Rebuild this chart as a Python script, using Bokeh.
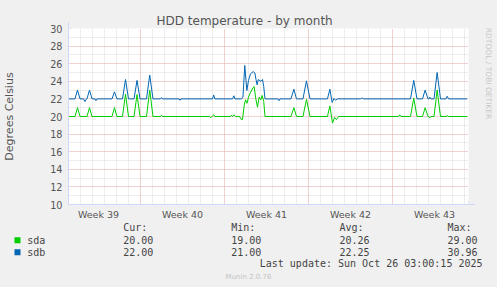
import math
from bokeh.plotting import figure
from bokeh.layouts import column, row
from bokeh.models import Range1d, FixedTicker, Grid, Arrow, NormalHead
from bokeh.core.properties import value
from bokeh.embed import file_html
from bokeh.resources import INLINE

# ---- data (x in days since Mon 22 Sep 2025 00:00) ----
sdb_t = [1.0, 1.54, 1.75, 1.96, 2.25, 2.375, 2.5, 2.54, 2.75, 2.96, 3.21, 3.29, 3.375,
         4.625, 4.83, 5.04, 5.5, 5.75, 6.0, 6.46, 6.71, 6.96, 7.5, 7.77, 8.04,
         8.67, 8.75, 8.83, 10.21, 10.29, 10.375, 13.0, 13.1, 13.2, 14.67, 14.78, 14.875,
         15.42, 15.54, 15.69, 15.86, 16.0, 16.17, 16.39, 16.53, 16.625, 16.72, 16.81,
         17.03, 17.17, 17.27, 17.375, 18.46, 18.54, 18.625, 19.54, 19.78, 20.0,
         20.54, 20.83, 21.125, 22.58, 22.78, 22.97, 23.125, 23.25, 23.42,
         25.33, 25.475, 25.58, 29.5, 29.77, 30.04, 30.5, 30.72, 30.96, 31.04, 31.11, 31.2,
         31.46, 31.72, 32.0, 32.46, 32.56, 32.67, 34.225]
sdb_v = [22.0, 22.0, 23.0, 22.0, 22.0, 21.7, 22.0, 22.0, 23.0, 22.0, 22.0, 21.8, 22.0,
         22.0, 22.8, 22.0, 22.0, 24.2, 22.0, 22.0, 24.1, 22.0, 22.0, 24.7, 22.0,
         22.0, 22.15, 22.0, 22.0, 21.85, 22.0, 22.0, 22.45, 22.0, 22.0, 22.35, 22.0,
         22.0, 22.2, 25.8, 22.95, 24.1, 24.85, 25.1, 24.95, 24.2, 23.6, 24.2,
         24.0, 24.2, 23.4, 22.0, 22.0, 21.8, 22.0, 22.0, 23.1, 22.0,
         22.0, 24.05, 22.0, 22.0, 23.1, 21.6, 22.05, 21.85, 22.0,
         22.0, 22.1, 22.0, 22.0, 24.1, 22.0, 22.0, 23.0, 22.0, 22.0, 22.2, 22.0,
         22.0, 25.0, 22.0, 22.0, 22.3, 22.0, 22.0]

sda_t = [1.0, 1.54, 1.75, 1.96, 2.54, 2.75, 2.96, 4.625, 4.83, 5.04, 5.5, 5.75, 6.0,
         6.46, 6.71, 6.96, 7.5, 7.77, 8.04, 8.67, 8.75, 8.83, 12.75, 12.86, 12.96,
         13.1, 13.2, 14.5, 14.58, 14.67, 14.78, 14.92, 15.25, 15.375, 15.5, 15.64, 15.75,
         15.875, 16.0, 16.17, 16.39, 16.47, 16.61, 16.75, 16.89, 17.03, 17.14, 17.27, 17.375,
         19.54, 19.78, 20.0, 20.54, 20.83, 21.125, 22.58, 22.78, 23.0, 23.17, 23.33, 23.5,
         28.5, 28.6, 28.7, 29.5, 29.77, 30.04, 30.5, 30.72, 30.96, 31.04, 31.11, 31.2,
         31.46, 31.72, 32.0, 32.46, 32.56, 32.67, 34.225]
sda_v = [20.0, 20.0, 21.0, 20.0, 20.0, 21.0, 20.0, 20.0, 21.0, 20.0, 20.0, 22.55, 20.0,
         20.0, 22.5, 20.0, 20.0, 23.0, 20.0, 20.0, 20.15, 20.0, 20.0, 19.85, 20.0,
         20.2, 20.0, 20.0, 20.15, 20.0, 20.2, 20.0, 20.0, 19.7, 19.65, 21.25, 21.9,
         21.5, 22.2, 22.75, 23.3, 23.4, 22.0, 21.06, 22.2, 21.9, 22.4, 21.7, 20.0,
         20.0, 21.0, 20.0, 20.0, 21.95, 20.0, 20.0, 21.2, 19.25, 19.9, 19.65, 20.0,
         20.0, 20.2, 20.0, 20.0, 22.1, 20.0, 20.0, 21.0, 20.0, 20.0, 19.85, 20.0,
         20.0, 23.0, 20.0, 20.0, 20.1, 20.0, 20.0]

week_pos = [3.5, 10.5, 17.5, 24.5, 31.5]
week_labels = ["Week 39", "Week 40", "Week 41", "Week 42", "Week 43"]
week_bounds = [7, 14, 21, 28]
day_ticks = list(range(1, 35))
y_ticks = list(range(10, 31, 2))
y_minor = list(range(10, 31))

series = ["sda", "sdb"]
colors = ["#00cc00", "#0066b3"]
headers = ["Cur:", "Min:", "Avg:", "Max:"]
cur = ["20.00", "22.00"]
mins = ["19.00", "21.00"]
avgs = ["20.26", "22.25"]
maxs = ["29.00", "30.96"]
last_update = "Last update: Sun Oct 26 03:00:15 2025"
footer = "Munin 2.0.76"
vendor = "RRDTOOL / TOBI OETIKER"
title = "HDD temperature - by month"
ylabel = "Degrees Celsius"

BG = "#f0f0f0"
GRAY = "#dadada"
RED = "#f0b8b8"
AX = "#cfd6f8"
FONT = "#555555"
LFONT = "#444444"

W, H = 497, 287
MAIN_W, MAIN_H = 477, 222

# ---------------- main chart ----------------
p = figure(width=MAIN_W, height=MAIN_H, output_backend="svg", toolbar_location=None,
           x_range=Range1d(1.0, 1.0 + 400 / 12), y_range=Range1d(10, 30),
           min_border_left=67, min_border_right=10, min_border_top=28, min_border_bottom=18,
           title=title)
p.frame_width = 400
p.frame_height = 176
p.border_fill_color = BG
p.background_fill_color = "#ffffff"
p.outline_line_color = None

p.title.align = "left"
p.title.offset = 88
p.title.standoff = 2
p.title.text_font = "DejaVu Sans"
p.title.text_font_size = "12px"
p.title.text_font_style = "normal"
p.title.text_color = FONT

# grids
p.xgrid.ticker = FixedTicker(ticks=day_ticks)
p.xgrid.grid_line_color = GRAY
p.xgrid.grid_line_dash = "1 1"
p.ygrid.ticker = FixedTicker(ticks=y_minor)
p.ygrid.grid_line_color = GRAY
p.ygrid.grid_line_dash = "1 1"
p.add_layout(Grid(dimension=0, ticker=FixedTicker(ticks=week_bounds),
                  grid_line_color=RED, grid_line_dash="1 1"))
p.add_layout(Grid(dimension=1, ticker=FixedTicker(ticks=y_ticks),
                  grid_line_color=RED, grid_line_dash="1 1"))

# axes
p.xaxis.ticker = FixedTicker(ticks=week_pos)
p.xaxis.major_label_overrides = {w: l for w, l in zip(week_pos, week_labels)}
p.yaxis.ticker = FixedTicker(ticks=y_ticks)
for ax in (p.xaxis, p.yaxis):
    ax.axis_line_color = AX
    ax.major_tick_line_color = None
    ax.minor_tick_line_color = None
    ax.major_tick_out = 0
    ax.major_tick_in = 0
    ax.minor_tick_out = 0
    ax.minor_tick_in = 0
    ax.major_label_text_font = "DejaVu Sans"
    ax.major_label_text_color = FONT
p.xaxis.major_label_text_font_size = "9.5px"
p.yaxis.major_label_text_font_size = "9.7px"
p.xaxis.major_label_standoff = 4
p.yaxis.major_label_standoff = 6
p.yaxis.axis_label = ylabel
p.yaxis.axis_label_text_font = "DejaVu Sans"
p.yaxis.axis_label_text_font_size = "11px"
p.yaxis.axis_label_text_font_style = "normal"
p.yaxis.axis_label_text_color = FONT
p.yaxis.axis_label_standoff = 31

# data lines
p.line(sda_t, sda_v, line_color=colors[0], line_width=1)
p.line(sdb_t, sdb_v, line_color=colors[1], line_width=1)

# arrow heads on the axes
p.add_layout(Arrow(end=NormalHead(size=6, fill_color=AX, line_color=AX),
                   x_start=1.0, y_start=29.0, x_end=1.0, y_end=30.7,
                   line_color=AX, line_width=1))
p.add_layout(Arrow(end=NormalHead(size=6, fill_color=AX, line_color=AX),
                   x_start=33.0, y_start=10, x_end=34.85, y_end=10,
                   line_color=AX, line_width=1))

# ---------------- right strip (vendor text) ----------------
s = figure(width=W - MAIN_W, height=MAIN_H, output_backend="svg", toolbar_location=None,
           x_range=Range1d(0, W - MAIN_W), y_range=Range1d(MAIN_H, 0),
           x_axis_type=None, y_axis_type=None,
           min_border=0, min_border_left=0, min_border_right=0,
           min_border_top=0, min_border_bottom=0)
s.border_fill_color = BG
s.background_fill_color = BG
s.outline_line_color = None
s.grid.visible = False
s.text(x=[10], y=[53.5], text=[vendor], angle=-math.pi / 2,
       text_font=value("DejaVu Sans"), text_font_size=value("7.5px"),
       text_color="#c8c8c8", text_align="center", text_baseline="middle")

# ---------------- legend block ----------------
LH = H - MAIN_H
g = figure(width=W, height=LH, output_backend="svg", toolbar_location=None,
           x_range=Range1d(0, W), y_range=Range1d(H, MAIN_H),
           x_axis_type=None, y_axis_type=None,
           min_border=0, min_border_left=0, min_border_right=0,
           min_border_top=0, min_border_bottom=0)
g.border_fill_color = BG
g.background_fill_color = BG
g.outline_line_color = None
g.grid.visible = False

cols_x = [122.7, 230.7, 339, 447]
rows_y = [239.7, 251.7]
mono = dict(text_font=value("DejaVu Sans Mono"), text_font_size=value("10px"),
            text_color=LFONT, text_baseline="middle")
g.text(x=cols_x, y=[227] * 4, text=headers, text_align="left", **mono)
g.scatter(x=[17, 17], y=rows_y, marker="square", size=6, fill_color=colors,
          line_color=None)
g.text(x=[26.7, 26.7], y=rows_y, text=series, text_align="left", **mono)
for cx, vals in zip(cols_x, [cur, mins, avgs, maxs]):
    g.text(x=[cx, cx], y=rows_y, text=vals, text_align="left", **mono)
g.text(x=[482], y=[263.3], text=[last_update], text_align="right", **mono)
g.text(x=[248], y=[276.3], text=[footer], text_align="center", text_baseline="middle",
       text_font=value("DejaVu Sans"), text_font_size=value("7px"), text_color="#c4c4c4")

layout = column(row(p, s, spacing=0), g, spacing=0)
layout.styles = {"background-color": BG}
open("out.html", "w").write(file_html(layout, INLINE))
